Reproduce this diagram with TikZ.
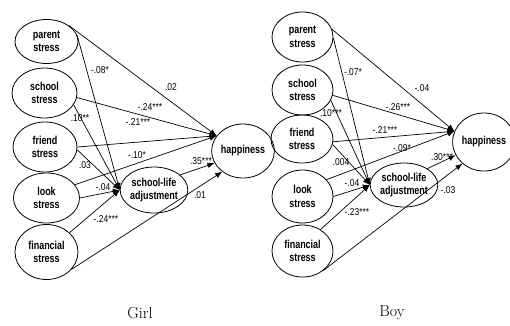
\documentclass[tikz,border=0pt]{standalone}
\usepackage{fontspec}
\newfontfamily\narrowsans{Liberation Sans}[FakeStretch=0.78]
\newfontfamily\coefsans{Liberation Sans}[FakeStretch=0.85]
\usetikzlibrary{shapes.geometric,arrows.meta}
\begin{document}
\begin{tikzpicture}[x=1pt,y=-1pt,
  var/.style={ellipse,draw,line width=0.8pt,inner sep=0pt,align=center,
    font=\narrowsans\bfseries\fontsize{11.5}{13.5}\selectfont},
  pth/.style={draw,line width=0.7pt,-{Latex[length=7pt,width=5.5pt]}},
  coef/.style={font=\coefsans\fontsize{10}{11}\selectfont,inner sep=0pt},
  captext/.style={font=\fontsize{16}{19}\selectfont,inner sep=0pt}]
\useasboundingbox (0,0) rectangle (510,325);

% ---------- Girl ----------
\node[var,minimum width=63pt,minimum height=44pt] (gP) at (46.5,41.5) {parent\\stress};
\node[var,minimum width=65pt,minimum height=50pt] (gS) at (44.5,93) {school\\stress};
\node[var,minimum width=64pt,minimum height=50pt] (gF) at (45,147) {friend\\stress};
\node[var,minimum width=66pt,minimum height=50pt] (gL) at (46.5,198) {look\\stress};
\node[var,minimum width=63pt,minimum height=55pt] (gFi) at (46.5,252) {financial\\stress};
\node[var,minimum width=58pt,minimum height=46pt] (gA) at (154,190) {school-life\\adjustment};
\node[var,minimum width=56pt,minimum height=54pt] (gH) at (243,151) {happiness};

\draw[pth] (gP.35) -- (gH.150);
\draw[pth] (gP.12) -- (gA.180);
\draw[pth] (gS.-8) -- (gH.150);
\draw[pth] (gS.-22) -- (gA.180);
\draw[pth] (gF.0) -- (gH.150);
\draw[pth] (gF.-5) -- (gA.180);
\draw[pth] (gL.25) -- (gH.150);
\draw[pth] (gL.0) -- (gA.180);
\draw[pth] (gFi.40) -- (gA.180);
\draw[pth] (gFi.-35) -- (gH.225);
\draw[pth] (gA.30) -- (gH.203);

\node[coef] (g1) at (100,70) {-.08*};
\node[coef] (g2) at (171,87) {.02};
\node[coef] (g3) at (150,107) {-.24***};
\node[coef] (g4) at (80,118) {.10**};
\node[coef] (g5) at (138,122) {-.21***};
\node[coef] (g6) at (137,155) {-.10*};
\node[coef] (g7) at (85,165) {.03};
\node[coef] (g8) at (103,187) {-.04};
\node[coef] (g9) at (106,219) {-.24***};
\node[coef] (g10) at (201,161) {.35***};
\node[coef] (g11) at (200,195) {.01};

% ---------- Boy ----------
\node[var,minimum width=61pt,minimum height=50pt] (bP) at (302.5,37) {parent\\stress};
\node[var,minimum width=61pt,minimum height=50pt] (bS) at (302.5,90) {school\\stress};
\node[var,minimum width=62pt,minimum height=48pt] (bF) at (302,139) {friend\\stress};
\node[var,minimum width=61pt,minimum height=53pt] (bL) at (302.5,196.5) {look\\stress};
\node[var,minimum width=61pt,minimum height=52pt] (bFi) at (302.5,251) {financial\\stress};
\node[var,minimum width=56pt,minimum height=44pt] (bA) at (404,185) {school-life\\adjustment};
\node[var,minimum width=52pt,minimum height=58pt] (bH) at (484,142) {happiness};

\draw[pth] (bP.15) -- (bH.160);
\draw[pth] (bP.-2) -- (bA.180);
\draw[pth] (bS.-10) -- (bH.160);
\draw[pth] (bS.-20) -- (bA.180);
\draw[pth] (bF.-5) -- (bH.160);
\draw[pth] (bF.-10) -- (bA.180);
\draw[pth] (bL.35) -- (bH.160);
\draw[pth] (bL.0) -- (bA.180);
\draw[pth] (bFi.50) -- (bA.180);
\draw[pth] (bFi.-45) -- (bH.225);
\draw[pth] (bA.35) -- (bH.205);

\node[coef] (b1) at (353,72) {-.07*};
\node[coef] (b2) at (422,88) {-.04};
\node[coef] (b3) at (398,107) {-.26***};
\node[coef] (b4) at (331,113) {.10***};
\node[coef] (b5) at (385,130) {-.21***};
\node[coef] (b6) at (402,148) {-.09*};
\node[coef] (b7) at (341,162) {.004};
\node[coef] (b8) at (352,183) {-.04};
\node[coef] (b9) at (357,212) {-.23***};
\node[coef] (b10) at (442,157) {.30***};
\node[coef] (b11) at (448,190) {-.03};

% ---------- captions ----------
\node[captext] (girl) at (140,313) {Girl};
\node[captext] (boy) at (392,313) {Boy};
\end{tikzpicture}
\end{document}
